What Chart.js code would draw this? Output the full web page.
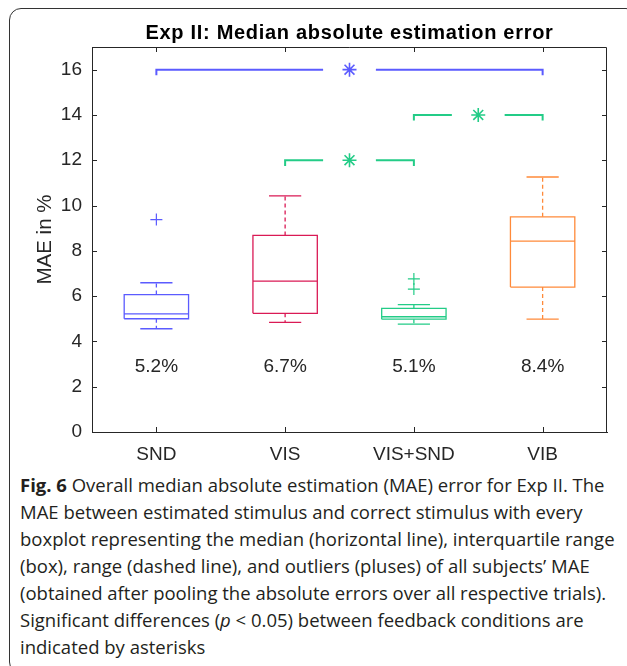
<!DOCTYPE html>
<html>
<head>
<meta charset="utf-8">
<script src="https://cdn.jsdelivr.net/npm/chart.js@4.4.0/dist/chart.umd.min.js"></script>
<style>
  body { margin: 0; width: 627px; height: 666px; background: #fff; overflow: hidden; position: relative; }
  #frame { position: absolute; left: 9px; top: 8px; width: 629px; height: 666px; border: 1.5px solid #333; border-radius: 12px; box-sizing: border-box; }
  #wrap { position: absolute; left: 0; top: 0; width: 627px; height: 470px; }
  #caption { position: absolute; left: 20px; top: 471px; font-family: "Open Sans", sans-serif; font-size: 18.5px; line-height: 27px; color: #231f20; white-space: nowrap; }
</style>
</head>
<body>
<div id="frame"></div>
<div id="wrap"><canvas id="maeChart" width="627" height="470"></canvas></div>
<div id="caption">
  <b>Fig. 6</b> Overall median absolute estimation (MAE) error for Exp II. The<br>
  MAE between estimated stimulus and correct stimulus with every<br>
  boxplot representing the median (horizontal line), interquartile range<br>
  (box), range (dashed line), and outliers (pluses) of all subjects’ MAE<br>
  (obtained after pooling the absolute errors over all respective trials).<br>
  Significant differences (<i>p</i> &lt; 0.05) between feedback conditions are<br>
  indicated by asterisks
</div>
<script>
// Data
const categories = ['SND', 'VIS', 'VIS+SND', 'VIB'];
const boxColors = ['#5b5bff', '#da1a55', '#23cc87', '#ff8a3a'];
const whiskerLow = [4.56, 4.84, 4.76, 4.98];
const q1 = [5.00, 5.24, 4.98, 6.40];
const medians = [5.22, 6.66, 5.09, 8.43];
const q3 = [6.07, 8.68, 5.46, 9.50];
const whiskerHigh = [6.59, 10.43, 5.62, 11.26];
const outlierCat = [0, 2, 2];
const outlierVal = [9.38, 6.76, 6.31];
const medianLabels = ['5.2%', '6.7%', '5.1%', '8.4%'];
const sigFrom = [0, 2, 1];
const sigTo = [3, 3, 2];
const sigLevel = [16, 14, 12];
const sigColors = ['#5b5bff', '#23cc87', '#23cc87'];
const yTicks = [0, 2, 4, 6, 8, 10, 12, 14, 16];

const chartTitle = 'Exp II: Median absolute estimation error';
const axisColor = '#262626';
const fontFamily = '"Liberation Sans", Arial, sans-serif';

const datasets = [];

// boxes, whiskers, caps and medians
categories.forEach((c, i) => {
    // dashed whiskers
    datasets.push({
        type: 'line',
        data: [
            {x: i, y: q3[i]}, {x: i, y: whiskerHigh[i]}, {x: i, y: null},
            {x: i, y: q1[i]}, {x: i, y: whiskerLow[i]}
        ],
        borderColor: boxColors[i],
        borderWidth: 1.3,
        borderDash: [4, 3],
        pointRadius: 0,
        spanGaps: false
    });
    // box outline, median and caps
    datasets.push({
        type: 'line',
        data: [
            {x: i - 0.25, y: q1[i]}, {x: i + 0.25, y: q1[i]}, {x: i + 0.25, y: q3[i]},
            {x: i - 0.25, y: q3[i]}, {x: i - 0.25, y: q1[i]}, {x: i, y: null},
            {x: i - 0.25, y: medians[i]}, {x: i + 0.25, y: medians[i]}, {x: i, y: null},
            {x: i - 0.125, y: whiskerHigh[i]}, {x: i + 0.125, y: whiskerHigh[i]}, {x: i, y: null},
            {x: i - 0.125, y: whiskerLow[i]}, {x: i + 0.125, y: whiskerLow[i]}
        ],
        borderColor: boxColors[i],
        borderWidth: 1.3,
        pointRadius: 0,
        spanGaps: false
    });
});

// outliers
datasets.push({
    type: 'scatter',
    data: outlierCat.map((c, k) => ({x: c, y: outlierVal[k]})),
    pointStyle: 'cross',
    pointRadius: 6,
    borderColor: outlierCat.map(c => boxColors[c]),
    borderWidth: 1.2
});

// significance brackets + asterisks
sigLevel.forEach((lv, k) => {
    const a = sigFrom[k], b = sigTo[k], m = (a + b) / 2;
    datasets.push({
        type: 'line',
        data: [
            {x: a, y: lv - 0.25}, {x: a, y: lv}, {x: m - 0.205, y: lv}, {x: m, y: null},
            {x: m + 0.205, y: lv}, {x: b, y: lv}, {x: b, y: lv - 0.25}
        ],
        borderColor: sigColors[k],
        borderWidth: 2,
        pointRadius: 0,
        spanGaps: false
    });
    datasets.push({
        type: 'scatter',
        data: [{x: m, y: lv}],
        pointStyle: 'star',
        pointRadius: 7,
        borderColor: sigColors[k],
        borderWidth: 1.6
    });
});

// MATLAB style box: inward ticks, top/right border, title, median labels
const matlabBox = {
    id: 'matlabBox',
    afterDatasetsDraw(chart) {
        const {ctx, chartArea: a, scales} = chart;
        ctx.save();
        ctx.strokeStyle = axisColor;
        ctx.lineWidth = 1;
        ctx.beginPath();
        ctx.moveTo(a.left, a.top + 0.5);
        ctx.lineTo(a.right - 0.5, a.top + 0.5);
        ctx.lineTo(a.right - 0.5, a.bottom);
        yTicks.forEach(v => {
            const y = Math.round(scales.y.getPixelForValue(v)) + 0.5;
            ctx.moveTo(a.left, y); ctx.lineTo(a.left + 5, y);
            ctx.moveTo(a.right, y); ctx.lineTo(a.right - 5, y);
        });
        categories.forEach((c, i) => {
            const x = Math.round(scales.x.getPixelForValue(i)) + 0.5;
            ctx.moveTo(x, a.top); ctx.lineTo(x, a.top + 5);
            ctx.moveTo(x, a.bottom); ctx.lineTo(x, a.bottom - 5);
        });
        ctx.stroke();

        ctx.fillStyle = axisColor;
        ctx.font = '19px ' + fontFamily;
        ctx.textAlign = 'center';
        ctx.textBaseline = 'middle';
        medianLabels.forEach((t, i) => {
            ctx.fillText(t, scales.x.getPixelForValue(i), scales.y.getPixelForValue(2.9));
        });

        ctx.fillStyle = '#000';
        ctx.font = 'bold 20px ' + fontFamily;
        ctx.letterSpacing = '0.7px';
        ctx.fillText(chartTitle, (a.left + a.right) / 2, 33.5);
        ctx.restore();
    }
};

const ctx = document.getElementById('maeChart').getContext('2d');
const maeChart = new Chart(ctx, {
    type: 'scatter',
    data: { datasets: datasets },
    options: {
        responsive: false,
        animation: false,
        devicePixelRatio: 1,
        layout: { padding: { left: 0, right: 20, top: 47, bottom: 0 } },
        plugins: {
            legend: { display: false },
            tooltip: { enabled: false },
            title: { display: false }
        },
        scales: {
            x: {
                type: 'linear',
                min: -0.5,
                max: 3.5,
                offset: false,
                afterBuildTicks(scale) { scale.ticks = categories.map((c, i) => ({value: i})); },
                grid: { drawOnChartArea: false, drawTicks: false },
                border: { color: axisColor, width: 1 },
                ticks: {
                    color: axisColor,
                    font: { family: fontFamily, size: 19 },
                    padding: 11,
                    maxRotation: 0,
                    autoSkip: false,
                    callback: (v) => categories[v]
                },
                afterFit(scale) { scale.height = 38; }
            },
            y: {
                min: 0,
                max: 17,
                afterBuildTicks(scale) { scale.ticks = yTicks.map(v => ({value: v})); },
                grid: { drawOnChartArea: false, drawTicks: false },
                border: { color: axisColor, width: 1 },
                ticks: { color: axisColor, font: { family: fontFamily, size: 19 }, padding: 10 },
                title: {
                    display: true,
                    text: 'MAE in %',
                    color: axisColor,
                    font: { family: fontFamily, size: 20.5 },
                    padding: { top: 32.7, bottom: 0 }
                },
                afterFit(scale) { scale.width = 92; }
            }
        }
    },
    plugins: [matlabBox]
});
</script>
</body>
</html>
